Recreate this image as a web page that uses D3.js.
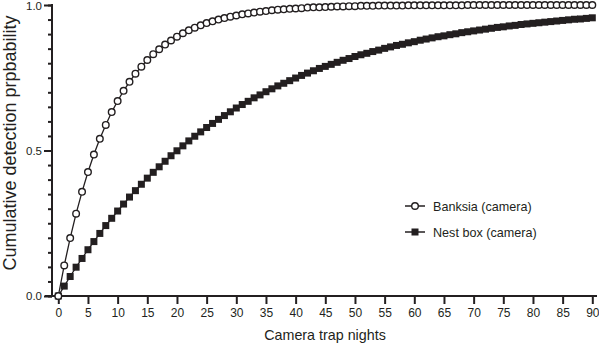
<!DOCTYPE html>
<html><head><meta charset="utf-8">
<script src="https://cdn.jsdelivr.net/npm/d3@7"></script>
<style>body{margin:0;background:#fff}svg{display:block}text{font-family:"Liberation Sans",Arial,Helvetica,sans-serif;fill:#231f20}</style>
</head><body><svg id="c" width="599" height="345"></svg>
<script>
const nights = d3.range(0, 91);
const banksia = [0,.105,.199,.283,.358,.426,.486,.540,.588,.632,.670,.705,.736,.764,.788,.811,.831,.848,.864,.878,
.891,.903,.913,.922,.930,.938,.944,.950,.955,.960,.964,.968,.971,.974,.977,.979,.982,.984,.985,.987,
.988,.989,.991,.992,.992,.993,.994,.995,.995,.996,.996,.997,.997,.997,.998,.998,.998,.998,.998,.999,
.999,.999,.999,.999,.999,.999,.999,.999,.999,1,1,1,1,1,1,1,1,1,1,1,1,1,1,1,1,1,1,1,1,1,1];
const nestbox = [0,.034,.067,.099,.129,.159,.187,.215,.242,.267,.292,.316,.340,.362,.384,.405,.425,.444,.463,.482,
.499,.516,.533,.549,.564,.579,.593,.607,.620,.633,.646,.658,.669,.681,.691,.702,.712,.722,.731,.740,
.749,.758,.766,.774,.782,.789,.796,.803,.810,.816,.823,.829,.834,.840,.845,.851,.856,.861,.865,.870,
.874,.879,.883,.887,.891,.894,.898,.901,.905,.908,.911,.914,.917,.920,.923,.925,.928,.930,.933,.935,
.937,.939,.941,.943,.945,.947,.949,.951,.952,.954,.956];
const xTicks = d3.range(0, 91, 5);
const yMajor = [0, 0.5, 1];
const yMinor = d3.range(0, 1.0001, 0.05);
const seriesNames = ["Banksia (camera)", "Nest box (camera)"];

const ink = "#231f20";
const svg = d3.select("#c");
const x = d3.scaleLinear().domain([0, 90]).range([58.3, 592.3]);
const y = d3.scaleLinear().domain([0, 1]).range([296, 5]);

// axes
const xa = svg.append("g").attr("transform", "translate(0,296)")
  .call(d3.axisBottom(x).tickValues(xTicks).tickSize(8).tickPadding(4).tickFormat(d3.format("d")));
xa.select(".domain").remove();
xa.append("line").attr("x1", 45).attr("x2", 597).attr("stroke", ink).attr("stroke-width", 2);
xa.selectAll(".tick line").attr("stroke", ink).attr("stroke-width", 2);
xa.selectAll(".tick text").attr("font-size", 12).attr("fill", ink).attr("font-family", "Liberation Sans, Arial, sans-serif");

const ya = svg.append("g").attr("transform", "translate(52,0)")
  .call(d3.axisLeft(y).tickValues(yMinor).tickSize(4).tickFormat(""));
ya.select(".domain").remove();
ya.selectAll(".tick line").attr("stroke", ink).attr("stroke-width", 2);
const ya2 = svg.append("g").attr("transform", "translate(52,0)")
  .call(d3.axisLeft(y).tickValues(yMajor).tickSize(8).tickPadding(2).tickFormat(d3.format(".1f")));
ya2.select(".domain").remove();
ya2.selectAll(".tick line").attr("stroke", ink).attr("stroke-width", 2);
ya2.selectAll(".tick text").attr("font-size", 11.5).attr("fill", ink).attr("font-family", "Liberation Sans, Arial, sans-serif");
ya2.selectAll(".tick text").filter(d => d === 1).attr("dy", "0.42em");
svg.append("line").attr("x1", 52).attr("x2", 52).attr("y1", 4).attr("y2", 297).attr("stroke", ink).attr("stroke-width", 2);

// titles
svg.append("text").attr("x", 325).attr("y", 340).attr("text-anchor", "middle").attr("font-size", 14.3).text("Camera trap nights");
svg.append("text").attr("transform", "translate(15.5,143) rotate(-90)").attr("text-anchor", "middle").attr("font-size", 18).text("Cumulative detection prpbability");

// nest box series
const sq = 7;
svg.append("path").datum(nestbox).attr("fill", "none").attr("stroke", ink).attr("stroke-width", 1.3)
  .attr("d", d3.line().x((d, i) => x(nights[i])).y(d => y(d)));
svg.append("g").selectAll("rect").data(nestbox).join("rect")
  .attr("x", (d, i) => x(nights[i]) - sq / 2).attr("y", d => y(d) - sq / 2)
  .attr("width", sq).attr("height", sq).attr("fill", ink);

// banksia series
svg.append("path").datum(banksia).attr("fill", "none").attr("stroke", ink).attr("stroke-width", 1.3)
  .attr("d", d3.line().x((d, i) => x(nights[i])).y(d => y(d)));
svg.append("g").selectAll("circle").data(banksia).join("circle")
  .attr("cx", (d, i) => x(nights[i])).attr("cy", d => y(d)).attr("r", 3.3)
  .attr("fill", "#fff").attr("stroke", ink).attr("stroke-width", 1.4);

// legend
const lg = svg.append("g");
const rows = [206, 232];
rows.forEach((ry, i) => {
  lg.append("line").attr("x1", 405).attr("x2", 425).attr("y1", ry).attr("y2", ry).attr("stroke", ink).attr("stroke-width", 1.5);
  if (i === 0) lg.append("circle").attr("cx", 415).attr("cy", ry).attr("r", 3.3).attr("fill", "#fff").attr("stroke", ink).attr("stroke-width", 1.4);
  else lg.append("rect").attr("x", 415 - sq / 2).attr("y", ry - sq / 2).attr("width", sq).attr("height", sq).attr("fill", ink);
  lg.append("text").attr("x", 433).attr("y", ry + 4.5).attr("font-size", 12.6).text(seriesNames[i]);
});
</script></body></html>
